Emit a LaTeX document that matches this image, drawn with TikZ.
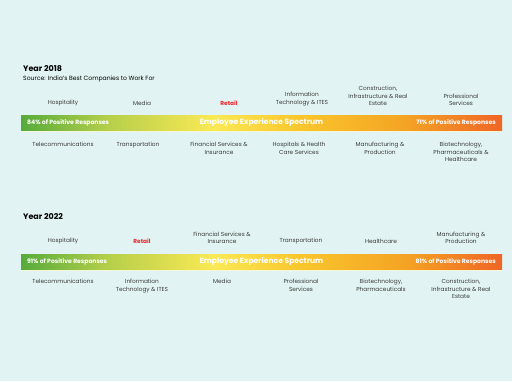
\documentclass[tikz,border=0pt]{standalone}
\usepackage{fontspec}
\setmainfont{Poppins}
\usetikzlibrary{positioning}
\definecolor{bgcyan}{HTML}{E1F4F3}
\definecolor{labelgray}{HTML}{3A3A3A}
\definecolor{retailred}{HTML}{E8262B}
\definecolor{barglow}{HTML}{F4F6D8}
\definecolor{barG}{HTML}{56AB3B}
\definecolor{barGY}{HTML}{B5CF4A}
\definecolor{barY}{HTML}{FBE955}
\definecolor{barYO}{HTML}{F9C62C}
\definecolor{barO}{HTML}{F4A324}
\definecolor{barR}{HTML}{F06526}
% tikz maps the path onto the middle half (25bp--75bp) of the shading
\pgfdeclarehorizontalshading{spectrum}{100bp}{%
  color(0bp)=(barG);
  color(25bp)=(barG);
  color(34bp)=(barGY);
  color(45bp)=(barY);
  color(54bp)=(barYO);
  color(65bp)=(barO);
  color(75bp)=(barR);
  color(100bp)=(barR)}
\tikzset{%
  sector/.style={align=center,font=\fontsize{5.8}{7.6}\selectfont,text=labelgray,inner sep=0pt},
  hot/.style={sector,text=retailred,font=\fontsize{5.8}{7.6}\selectfont\bfseries},
  yearhead/.style={anchor=base west,font=\fontsize{8}{9}\selectfont\bfseries,inner sep=0pt},
  share/.style={font=\fontsize{6.1}{7}\selectfont\bfseries,text=white,inner sep=0pt},
  spectrumtitle/.style={font=\fontsize{7.6}{9}\selectfont\bfseries,text=white,inner sep=0pt}
}

\begin{document}
\begin{tikzpicture}[x=1pt,y=-1pt]
\fill[bgcyan] (0,0) rectangle (512,381);
\useasboundingbox (0,0) rectangle (512,381);

% Year 2018
\node[yearhead] (year18) at (23,71) {Year 2018};
\node[anchor=base west,font=\fontsize{6.1}{7}\selectfont,inner sep=0pt] (source) at (23,80.5)
  {Source: India's Best Companies to Work For};

\fill[barglow] (21,130) rectangle (502,132);
\shade[shading=spectrum] (21,115) rectangle (502,130);
\coordinate (bar18) at (261.5,122.5);
\node[share,anchor=west] (low18) at (27,122.7) {84\% of Positive Responses};
\node[spectrumtitle] (title18) at (bar18) {Employee Experience Spectrum};
\node[share,anchor=east] (high18) at (496,122.7) {71\% of Positive Responses};

% sectors above the bar (bottom aligned)
\node[sector,anchor=south] (hosp18) at (63,106) {Hospitality};
\node[sector,anchor=south] (media18) at (142,106) {Media};
\node[hot,anchor=south] (retail18) at (229,106) {Retail};
\node[sector,anchor=south] (it18) at (302,106) {Information\\Technology \& ITES};
\node[sector,anchor=south] (constr18) at (378,106) {Construction,\\Infrastructure \& Real\\Estate};
\node[sector,anchor=south] (prof18) at (461,106) {Professional\\Services};

% sectors below the bar (top aligned)
\node[sector,anchor=north] (tele18) at (63,142) {Telecommunications};
\node[sector,anchor=north] (trans18) at (138,142) {Transportation};
\node[sector,anchor=north] (fin18) at (219,142) {Financial Services \&\\Insurance};
\node[sector,anchor=north] (health18) at (299,142) {Hospitals \& Health\\Care Services};
\node[sector,anchor=north] (manu18) at (380,142) {Manufacturing \&\\Production};
\node[sector,anchor=north] (bio18) at (461,142) {Biotechnology,\\Pharmaceuticals \&\\Healthcare};

% Year 2022
\node[yearhead] (year22) at (23,219) {Year 2022};

\fill[barglow] (21,269) rectangle (502,271);
\shade[shading=spectrum] (21,254) rectangle (502,269);
\coordinate (bar22) at (261.5,261.5);
\node[share,anchor=west] (low22) at (27,261.7) {91\% of Positive Responses};
\node[spectrumtitle] (title22) at (bar22) {Employee Experience Spectrum};
\node[share,anchor=east] (high22) at (496,261.7) {81\% of Positive Responses};

\node[sector,anchor=south] (hosp22) at (63,244) {Hospitality};
\node[hot,anchor=south] (retail22) at (142,244) {Retail};
\node[sector,anchor=south] (fin22) at (222,244) {Financial Services \&\\Insurance};
\node[sector,anchor=south] (trans22) at (301,244) {Transportation};
\node[sector,anchor=south] (care22) at (381,244) {Healthcare};
\node[sector,anchor=south] (manu22) at (461,244) {Manufacturing \&\\Production};

\node[sector,anchor=north] (tele22) at (63,279) {Telecommunications};
\node[sector,anchor=north] (it22) at (142,279) {Information\\Technology \& ITES};
\node[sector,anchor=north] (media22) at (222,279) {Media};
\node[sector,anchor=north] (prof22) at (301,279) {Professional\\Services};
\node[sector,anchor=north] (bio22) at (381,279) {Biotechnology,\\Pharmaceuticals};
\node[sector,anchor=north] (constr22) at (461,279) {Construction,\\Infrastructure \& Real\\Estate};

\end{tikzpicture}
\end{document}
